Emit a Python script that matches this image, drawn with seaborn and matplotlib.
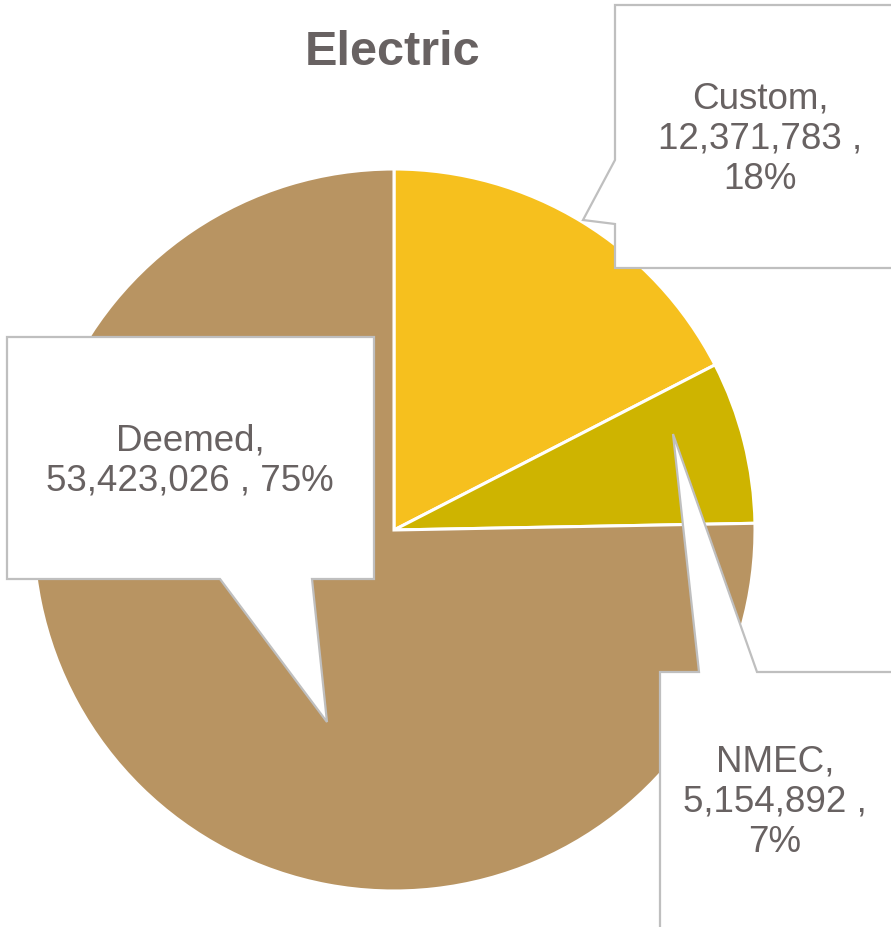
import matplotlib
matplotlib.use("Agg")
import matplotlib.pyplot as plt
from matplotlib.patches import Polygon
import seaborn as sns

# data
categorias = ["Custom", "NMEC", "Deemed"]
valores = [12371783, 5154892, 53423026]
porcentajes = ["18%", "7%", "75%"]
colores = ["#F6C01E", "#CEB400", "#B89462"]

W, H = 891, 927
sns.set_theme(style="white")
plt.rcParams["font.family"] = ["Liberation Sans", "DejaVu Sans"]

fig = plt.figure(figsize=(W / 100, H / 100), dpi=100)
ax = fig.add_axes([0, 0, 1, 1])

def py(y):
    # pixel y (desde arriba) -> coordenada de datos
    return H - y

centro = (394, py(530))
ax.pie(valores, colors=colores, startangle=90, counterclock=False,
       center=centro, radius=361,
       wedgeprops=dict(edgecolor="white", linewidth=2.2))
ax.set_xlim(0, W)
ax.set_ylim(0, H)
ax.set_aspect("equal")
ax.axis("off")

gris_borde = "#BFBFBF"
gris_texto = "#686262"

# callouts (caja + puntero), en pixeles
callouts = {
    "Custom": [(615, 5), (905, 5), (905, 268), (615, 268), (615, 224), (583, 220), (615, 160)],
    "NMEC": [(660, 672), (699, 672), (673, 434), (757, 672), (905, 672), (905, 940), (660, 940)],
    "Deemed": [(7, 337), (374, 337), (374, 579), (312, 579), (327, 722), (220, 579), (7, 579)],
}
textos = {
    "Custom": ((760, 139), "Custom,\n12,371,783 ,\n18%"),
    "NMEC": ((775, 802), "NMEC,\n5,154,892 ,\n7%"),
    "Deemed": ((190, 461), "Deemed,\n53,423,026 , 75%"),
}

for nombre in categorias:
    pts = [(x, py(y)) for x, y in callouts[nombre]]
    ax.add_patch(Polygon(pts, closed=True, facecolor="white", edgecolor=gris_borde,
                         linewidth=1.6, zorder=5, joinstyle="miter"))
    (tx, ty), txt = textos[nombre]
    ax.text(tx, py(ty), txt, ha="center", va="center", fontsize=26.5,
            color=gris_texto, linespacing=1.2, zorder=6)

ax.text(393, py(52), "Electric", ha="center", va="center", fontsize=35,
        fontweight="bold", color=gris_texto)

fig.savefig("out.png", dpi=100)
